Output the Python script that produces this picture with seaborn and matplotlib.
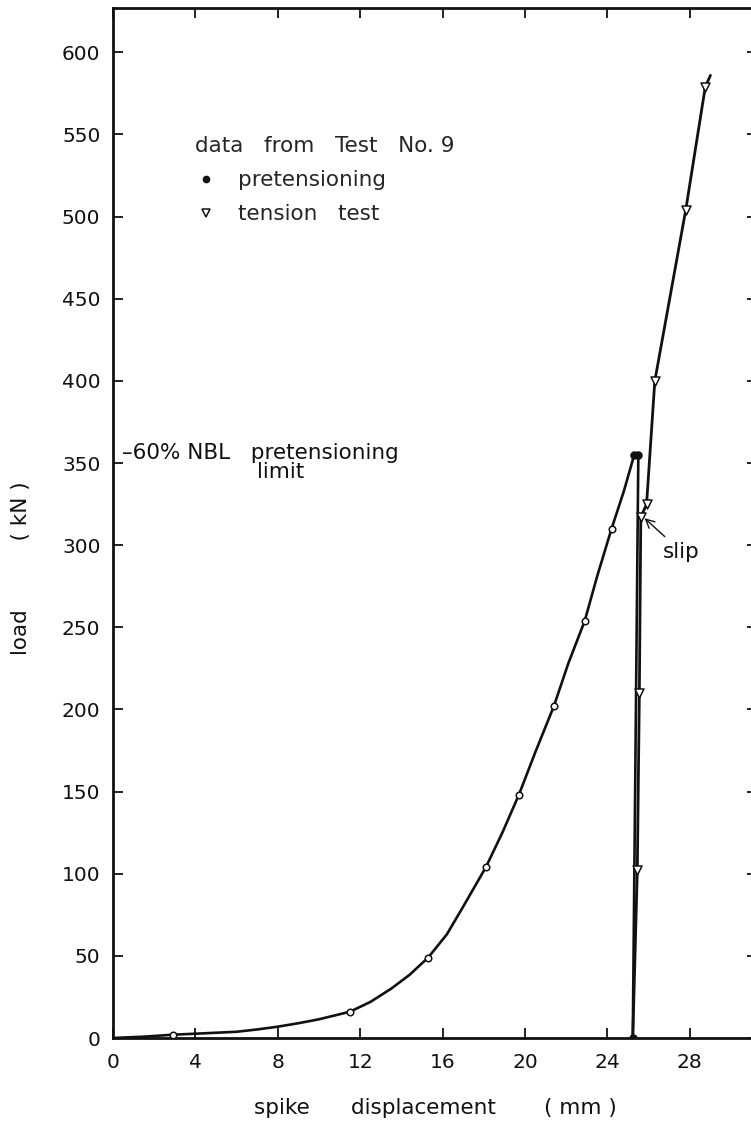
import numpy as np
import pandas as pd
import matplotlib
matplotlib.use("Agg")
import matplotlib.pyplot as plt
from matplotlib.lines import Line2D
import seaborn as sns

# Pretensioning (loading) curve: measured points and the traced curve through them
pre_x = [2.9, 11.5, 15.3, 18.1, 19.7, 21.4, 22.9, 24.2]
pre_y = [2, 16, 49, 104, 148, 202, 254, 310]
pre_curve_x = [0.0, 1.5, 2.9, 4.5, 6.0, 7.0, 8.0, 9.0, 10.0, 11.5, 12.5, 13.5, 14.4, 15.3,
               16.2, 17.0, 18.1, 18.9, 19.7, 20.5, 21.4, 22.1, 22.9, 23.5, 24.2, 24.8,
               25.3, 25.5, 25.23]
pre_curve_y = [0, 0.8, 2, 2.9, 3.8, 5.2, 6.9, 9.0, 11.4, 16, 22, 30, 38.5, 49,
               63, 80, 104, 125, 148, 174, 202, 228, 254, 281, 310, 333,
               355, 355, 0]
# pretensioning limit reached, then released
pre_end_x = [25.3, 25.5, 25.23]
pre_end_y = [355, 355, 0]

# Tension test after pretensioning
ten_x = [25.23, 25.45, 25.55, 25.62, 25.9, 26.3, 27.8, 28.75, 29.0]
ten_y = [0, 102, 210, 317, 325, 400, 504, 579, 586]
ten_mark_x = [25.45, 25.55, 25.62, 25.9, 26.3, 27.8, 28.75]
ten_mark_y = [102, 210, 317, 325, 400, 504, 579]

x_ticks = [0, 4, 8, 12, 16, 20, 24, 28]
y_ticks = [0, 50, 100, 150, 200, 250, 300, 350, 400, 450, 500, 550, 600]

sns.set_theme(style="ticks")
plt.rcParams["font.family"] = ["DejaVu Sans"]
plt.rcParams["font.size"] = 15

fig = plt.figure(figsize=(7.51, 11.24), dpi=100)
ax = fig.add_axes([113 / 751, 86 / 1124, 644 / 751, 1030 / 1124])

ink = "#111111"
txt = 15.5

sns.lineplot(data=pd.DataFrame({"x": pre_curve_x, "y": pre_curve_y}), x="x", y="y",
             sort=False, estimator=None, color=ink, lw=1.9, ax=ax)
sns.lineplot(data=pd.DataFrame({"x": ten_x, "y": ten_y}), x="x", y="y",
             sort=False, estimator=None, color=ink, lw=2.0, ax=ax)
sns.scatterplot(data=pd.DataFrame({"x": pre_x, "y": pre_y}), x="x", y="y",
                marker="o", s=22, facecolor="white", edgecolor=ink, linewidth=1.1, ax=ax, zorder=5)
sns.scatterplot(data=pd.DataFrame({"x": pre_end_x, "y": pre_end_y}), x="x", y="y",
                marker="o", s=26, color=ink, edgecolor=ink, linewidth=1.0, ax=ax, zorder=5)
sns.scatterplot(data=pd.DataFrame({"x": ten_mark_x, "y": ten_mark_y}), x="x", y="y",
                marker="v", s=42, facecolor="white", edgecolor=ink, linewidth=1.1, ax=ax, zorder=5)

ax.set_xlim(0, 31.26)
ax.set_ylim(0, 627)
ax.set_xticks(x_ticks)
ax.set_yticks(y_ticks)
ax.tick_params(direction="in", length=7, width=1.3, colors=ink, labelsize=14.5,
               top=True, right=True, pad=9)
ax.tick_params(axis="x", pad=11)
for s in ax.spines.values():
    s.set_linewidth(2.0)
    s.set_color(ink)

ax.set_xlabel("spike      displacement       ( mm )", fontsize=txt, color=ink)
ax.set_ylabel("load          ( kN )", fontsize=txt, color=ink)
ax.xaxis.set_label_coords(0.50, -0.058)
ax.yaxis.set_label_coords(-0.128, 0.456)

# legend block
handles = [
    Line2D([], [], ls="none", marker="o", ms=4.5, color=ink),
    Line2D([], [], ls="none", marker="v", ms=6, mfc="white", mec=ink, mew=1.1),
]
leg = ax.legend(handles, ["pretensioning", "tension   test"],
                title="data   from   Test   No. 9", title_fontsize=txt, fontsize=txt,
                loc="upper left", bbox_to_anchor=(0.104, 0.89), frameon=False,
                alignment="left", handlelength=1.0, handletextpad=1.0,
                labelspacing=0.65, borderpad=0.2)

# pretensioning limit note
ax.text(0.45, 356, "–60% NBL   pretensioning", fontsize=txt, color=ink, va="center", ha="left")
ax.text(7.0, 344.5, "limit", fontsize=txt, color=ink, va="center", ha="left")

# slip annotation
ax.annotate("slip", xy=(25.75, 317), xytext=(26.7, 296), fontsize=txt, color=ink,
            va="center", ha="left",
            arrowprops=dict(arrowstyle="->", color=ink, lw=1.0, shrinkA=2, shrinkB=1))

fig.savefig("out.png", dpi=100, facecolor="white")
